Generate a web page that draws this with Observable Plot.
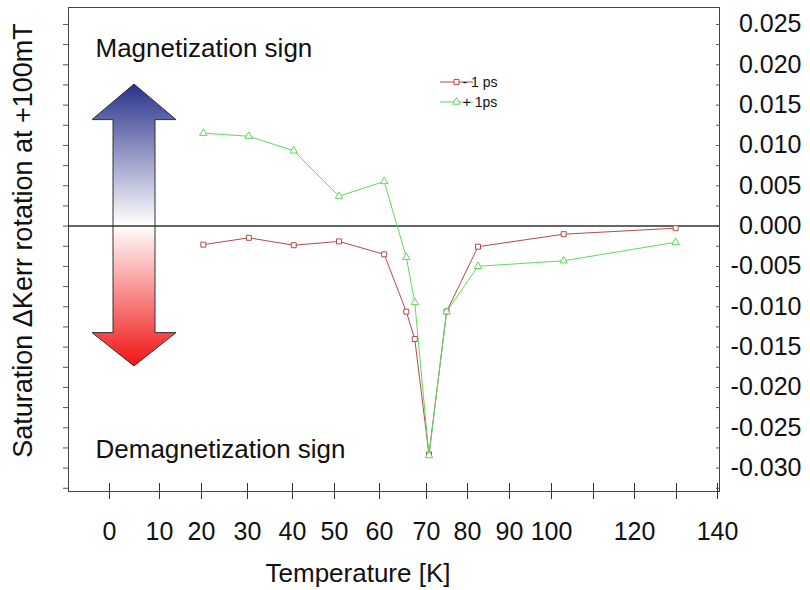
<!DOCTYPE html>
<html>
<head>
<meta charset="utf-8">
<script src="https://cdn.jsdelivr.net/npm/d3@7"></script>
<script src="https://cdn.jsdelivr.net/npm/@observablehq/plot@0.6"></script>
<style>
  html, body { margin: 0; padding: 0; background: #ffffff; }
  svg { display: block; }
</style>
</head>
<body>
<div id="chart"></div>
<script>
// ---- data ----
const temperatures = [20.4, 30.3, 40.3, 51, 61, 65.7, 67.5, 70.6, 74.9, 82.5, 102.9, 129.8];
const kerrMinus1ps = [-0.0023, -0.00145, -0.00237, -0.0019, -0.0035, -0.0106, -0.0140, -0.0283, -0.0106, -0.00255, -0.0010, -0.00026];
const kerrPlus1ps  = [0.01152, 0.01114, 0.00933, 0.00371, 0.00553, -0.00386, -0.00947, -0.02844, -0.01062, -0.00498, -0.0043, -0.0020];
const seriesNames = ["- 1 ps", "+ 1ps"];
const xTicks = [0, 10, 20, 30, 40, 50, 60, 70, 80, 90, 100, 110, 120, 130, 140];
const xTickLabels = [0, 10, 20, 30, 40, 50, 60, 70, 80, 90, 100, 120, 140];
const yTickLabels = [0.025, 0.020, 0.015, 0.010, 0.005, 0.000, -0.005, -0.010, -0.015, -0.020, -0.025, -0.030];
const yMinorTicks = [0.025, 0.0225, 0.02, 0.0175, 0.015, 0.0125, 0.01, 0.0075, 0.005, 0.0025, 0, -0.0025, -0.005, -0.0075, -0.01, -0.0125, -0.015, -0.0175, -0.02, -0.0225, -0.025, -0.0275, -0.03, -0.0325];
const annotations = ["Magnetization sign", "Demagnetization sign"];
const xTitle = "Temperature [K]";
const yTitle = "Saturation \u0394Kerr rotation at +100mT";

// ---- layout / style ----
const RED = "#b84848";
const GREEN = "#5fd85f";
const FONT = "'Liberation Sans', Arial, Helvetica, sans-serif";

const rowsMinus = temperatures.map((t, i) => ({T: t, v: kerrMinus1ps[i]}));
const rowsPlus = temperatures.map((t, i) => ({T: t, v: kerrPlus1ps[i]}));

const blank = () => "";

const svg = Plot.plot({
  width: 810,
  height: 590,
  marginLeft: 68,
  marginRight: 91,
  marginTop: 7,
  marginBottom: 99,
  style: {fontFamily: FONT, background: "#ffffff", color: "#111"},
  x: {type: "linear", domain: xTicks, range: [109, 159, 201, 247, 292, 334, 379, 426, 467, 509, 551, 593, 634, 676, 717]},
  y: {type: "linear", domain: [-0.0329, 0.0271], range: [491, 7]},
  marks: [
    Plot.frame({stroke: "#444", strokeWidth: 1}),
    Plot.ruleY([0], {stroke: "#333", strokeWidth: 1.5}),
    Plot.axisX({ticks: xTicks, tickSize: 8, tickFormat: blank, label: null, stroke: "#333"}),
    Plot.axisX({ticks: xTicks, tickSize: -8, tickFormat: blank, label: null, stroke: "#333"}),
    Plot.axisX({ticks: xTickLabels, tickSize: 0, tickPadding: 31, fontSize: 25, label: null, fill: "#111"}),
    Plot.axisY({anchor: "left", ticks: yMinorTicks, tickSize: 5, tickFormat: blank, label: null, stroke: "#555"}),
    Plot.axisY({anchor: "right", ticks: yMinorTicks, tickSize: -4, tickFormat: blank, label: null, stroke: "#555"}),
    Plot.axisY({anchor: "right", ticks: yTickLabels, tickSize: 0, tickPadding: 82, textAnchor: "end", fontSize: 25, tickFormat: d => d.toFixed(3), label: null, fill: "#111"}),
    Plot.line(rowsMinus, {x: "T", y: "v", stroke: RED, strokeWidth: 1}),
    Plot.line(rowsPlus, {x: "T", y: "v", stroke: GREEN, strokeWidth: 1}),
    Plot.dot(rowsMinus, {x: "T", y: "v", symbol: "square", r: 2.8, stroke: RED, fill: "white", strokeWidth: 1}),
    Plot.dot(rowsPlus, {x: "T", y: "v", symbol: "triangle", r: 2.8, stroke: GREEN, fill: "white", strokeWidth: 1}),
    Plot.text([annotations[0]], {frameAnchor: "top-left", dx: 27, dy: 31, textAnchor: "start", lineAnchor: "top", fontSize: 26, fill: "#111"}),
    Plot.text([annotations[1]], {frameAnchor: "bottom-left", dx: 27, dy: -52, textAnchor: "start", lineAnchor: "top", fontSize: 26, fill: "#111"}),
    Plot.text([xTitle], {frameAnchor: "bottom", dx: -36, dy: 72, textAnchor: "middle", lineAnchor: "top", fontSize: 26, fill: "#111"}),
    Plot.text([yTitle], {frameAnchor: "left", dx: -45, dy: -9, rotate: -90, textAnchor: "middle", lineAnchor: "middle", fontSize: 27, fill: "#111"})
  ]
});

document.getElementById("chart").appendChild(svg);

// ---- decorations: gradient double arrow and legend ----
const root = d3.select(svg);
const defs = root.insert("defs", ":first-child");
const grad = defs.append("linearGradient")
  .attr("id", "arrowGrad").attr("x1", 0).attr("y1", 0).attr("x2", 0).attr("y2", 1);
grad.append("stop").attr("offset", "0%").attr("stop-color", "#2a328c");
grad.append("stop").attr("offset", "50%").attr("stop-color", "#ffffff");
grad.append("stop").attr("offset", "100%").attr("stop-color", "#f01414");

const cx = 134, tipTop = 84, headTop = 119.6, headBot = 332.6, tipBot = 366, headHalf = 42, shaftHalf = 21;
const arrowPts = [
  [cx, tipTop], [cx + headHalf, headTop], [cx + shaftHalf, headTop], [cx + shaftHalf, headBot],
  [cx + headHalf, headBot], [cx, tipBot], [cx - headHalf, headBot], [cx - shaftHalf, headBot],
  [cx - shaftHalf, headTop], [cx - headHalf, headTop]
];
const firstMark = svg.querySelector("g");
const arrowG = document.createElementNS("http://www.w3.org/2000/svg", "g");
svg.insertBefore(arrowG, firstMark);
d3.select(arrowG).append("path")
  .attr("d", "M" + arrowPts.map(p => p.join(",")).join("L") + "Z")
  .attr("fill", "url(#arrowGrad)")
  .attr("stroke", "#333")
  .attr("stroke-width", 1);

const legend = root.append("g").attr("font-family", FONT).attr("font-size", 14);
const legendRows = [
  {name: seriesNames[0], color: RED, symbol: d3.symbolSquare, y: 82},
  {name: seriesNames[1], color: GREEN, symbol: d3.symbolTriangle, y: 102}
];
legendRows.forEach(r => {
  legend.append("line").attr("x1", 440).attr("x2", 473).attr("y1", r.y).attr("y2", r.y)
    .attr("stroke", r.color).attr("stroke-width", 1);
  legend.append("path").attr("d", d3.symbol(r.symbol, Math.PI * 2.8 * 2.8)())
    .attr("transform", `translate(456.5,${r.y})`)
    .attr("fill", "white").attr("stroke", r.color).attr("stroke-width", 1);
  legend.append("text").attr("x", 480).attr("y", r.y).attr("dy", "0.35em")
    .attr("fill", "#111").attr("xml:space", "preserve").text(r.name);
});
</script>
</body>
</html>
